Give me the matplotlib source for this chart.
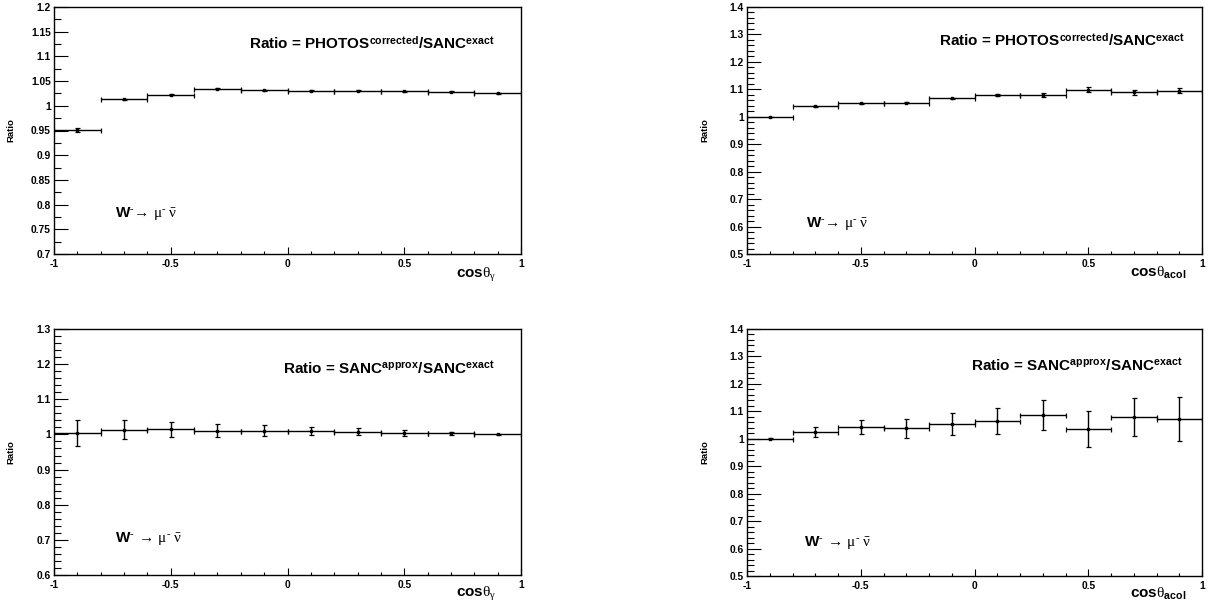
import matplotlib
matplotlib.use('Agg')
import matplotlib.pyplot as plt
from matplotlib.ticker import MultipleLocator
import numpy as np

# fonts close to ROOT's helvetica bold + symbol
plt.rcParams['font.family'] = 'Liberation Sans'
plt.rcParams['font.weight'] = 'bold'
plt.rcParams['mathtext.fontset'] = 'custom'
plt.rcParams['mathtext.rm'] = 'Liberation Serif:weight=normal'
plt.rcParams['mathtext.it'] = 'Liberation Serif:italic:weight=normal'
plt.rcParams['mathtext.bf'] = 'Liberation Sans:bold'

# bin centres (10 bins of width 0.2 on [-1, 1])
bin_centres = [-0.9, -0.7, -0.5, -0.3, -0.1, 0.1, 0.3, 0.5, 0.7, 0.9]
bin_halfwidth = 0.1

# PHOTOS corrected / SANC exact, cos theta_gamma
photos_gamma = [0.951, 1.013, 1.022, 1.035, 1.031, 1.030, 1.030, 1.029, 1.028, 1.025]
photos_gamma_err = [0.004, 0.001, 0.001, 0.001, 0.001, 0.001, 0.001, 0.001, 0.001, 0.001]

# PHOTOS corrected / SANC exact, cos theta_acol
photos_acol = [1.000, 1.038, 1.050, 1.052, 1.067, 1.079, 1.078, 1.099, 1.089, 1.095]
photos_acol_err = [0.001, 0.002, 0.002, 0.002, 0.003, 0.005, 0.007, 0.008, 0.008, 0.010]

# SANC approx / SANC exact, cos theta_gamma
sanc_gamma = [1.003, 1.013, 1.015, 1.011, 1.011, 1.009, 1.007, 1.004, 1.003, 1.000]
sanc_gamma_err = [0.037, 0.027, 0.021, 0.018, 0.015, 0.012, 0.010, 0.008, 0.005, 0.002]

# SANC approx / SANC exact, cos theta_acol
sanc_acol = [1.001, 1.024, 1.043, 1.038, 1.053, 1.065, 1.086, 1.036, 1.080, 1.072]
sanc_acol_err = [0.001, 0.018, 0.025, 0.034, 0.041, 0.048, 0.055, 0.065, 0.069, 0.079]

ratio_photos = r'Ratio = PHOTOS$^{\mathbf{corrected}}$/SANC$^{\mathbf{exact}}$'
ratio_sanc = r'Ratio = SANC$^{\mathbf{approx}}$/SANC$^{\mathbf{exact}}$'
decay_top = r'$\mathbf{W}^{\text{-}}\!\rightarrow\,\mathrm{\mu}^{\text{-}}\;\bar{\mathrm{\nu}}$'
decay_bot = r'$\mathbf{W}^{\text{-}}\;\rightarrow\,\mathrm{\mu}^{\text{-}}\;\bar{\mathrm{\nu}}$'
xlab_gamma = r'$\mathbf{cos}\mathrm{\theta}_{\mathrm{\gamma}}$'
xlab_acol = r'$\mathbf{cos}\mathrm{\theta}_{\mathbf{acol}}$'

W, H = 1224.0, 604.0
fig = plt.figure(figsize=(12.24, 6.04), dpi=100)

panels = [
    # rect in pixels (left, top, right, bottom), values, errors, ylim, ymajor, yminor, ratio text, decay text, xlabel, text positions
    ((54, 7, 521, 254), photos_gamma, photos_gamma_err, (0.7, 1.2), 0.05, 0.025,
     ratio_photos, (0.418, 0.826), decay_top, (0.131, 0.15), xlab_gamma, (0.946, -0.097)),
    ((747, 7, 1202, 254), photos_acol, photos_acol_err, (0.5, 1.4), 0.1, 0.02,
     ratio_photos, (0.422, 0.838), decay_top, (0.13, 0.109), xlab_acol, (0.965, -0.093)),
    ((54, 329, 521, 575), sanc_gamma, sanc_gamma_err, (0.6, 1.3), 0.1, 0.02,
     ratio_sanc, (0.49, 0.821), decay_bot, (0.131, 0.134), xlab_gamma, (0.946, -0.089)),
    ((747, 329, 1202, 576), sanc_acol, sanc_acol_err, (0.5, 1.4), 0.1, 0.02,
     ratio_sanc, (0.492, 0.834), decay_bot, (0.125, 0.121), xlab_acol, (0.965, -0.089)),
]

for (rect, vals, errs, ylim, ymaj, ymin, rtxt, rpos, dtxt, dpos, xl, xlpos) in panels:
    l, t, r, b = rect
    ax = fig.add_axes([l / W, 1 - b / H, (r - l) / W, (b - t) / H])
    ax.errorbar(bin_centres, vals, xerr=bin_halfwidth, yerr=errs, fmt='s',
                color='black', ms=1.7, lw=1.0, capsize=1.8, capthick=0.9)
    ax.set_xlim(-1, 1)
    ax.set_ylim(*ylim)
    ax.xaxis.set_major_locator(MultipleLocator(0.5))
    ax.xaxis.set_minor_locator(MultipleLocator(0.1))
    ax.yaxis.set_major_locator(MultipleLocator(ymaj))
    ax.yaxis.set_minor_locator(MultipleLocator(ymin))
    ax.xaxis.set_major_formatter(matplotlib.ticker.FuncFormatter(lambda v, p: '%g' % v))
    ax.yaxis.set_major_formatter(matplotlib.ticker.FuncFormatter(lambda v, p: '%g' % round(v, 3)))
    ax.tick_params(axis='y', which='major', direction='in', length=10, width=0.8,
                   labelsize=7.4, pad=2.4)
    ax.tick_params(axis='y', which='minor', direction='in', length=5, width=0.8)
    ax.tick_params(axis='x', which='major', direction='in', length=5, width=0.8,
                   labelsize=7.4, pad=3.5)
    ax.tick_params(axis='x', which='minor', direction='in', length=2.5, width=0.8)
    for sp in ax.spines.values():
        sp.set_linewidth(1.0)
    ax.set_ylabel('Ratio', fontsize=6.8, fontweight='bold')
    ax.yaxis.set_label_coords(-0.0835, 0.5)
    ax.text(rpos[0], rpos[1], rtxt, transform=ax.transAxes, ha='left', va='baseline',
            fontsize=11, fontweight='bold')
    ax.text(dpos[0], dpos[1], dtxt, transform=ax.transAxes, ha='left', va='baseline',
            fontsize=11)
    ax.text(xlpos[0], xlpos[1], xl, transform=ax.transAxes, ha='right', va='baseline',
            fontsize=11)

fig.savefig('out.png', dpi=100)
